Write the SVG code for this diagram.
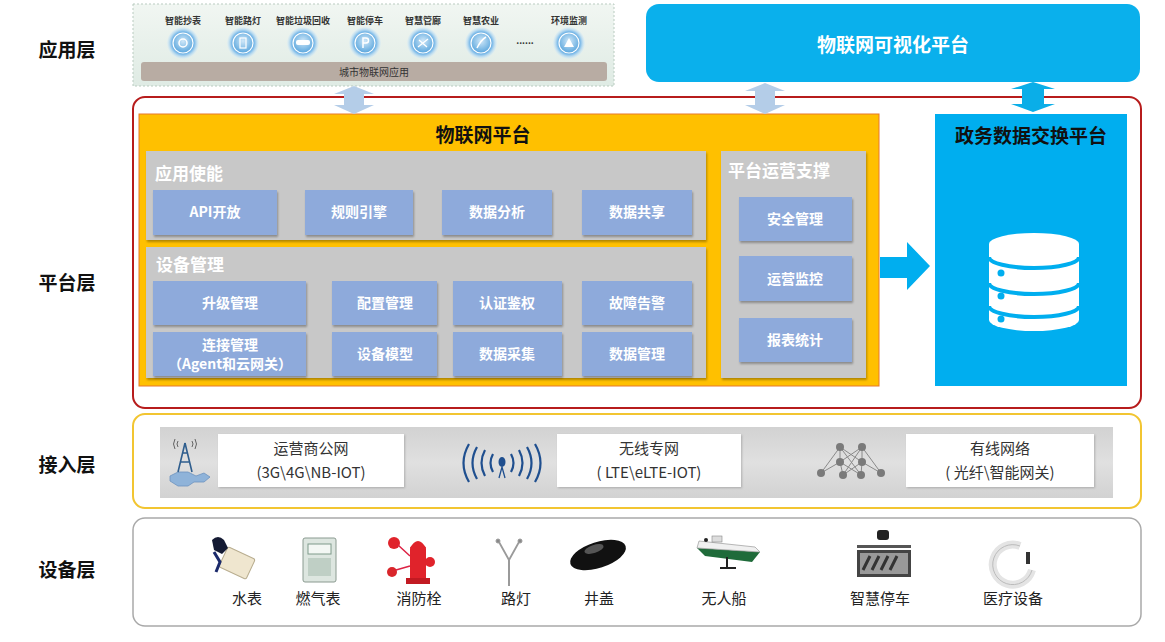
<svg xmlns="http://www.w3.org/2000/svg" width="1165" height="642" viewBox="0 0 1165 642">
<defs>
<style>
text{font-family:"Noto Sans CJK SC","Liberation Sans",sans-serif;}
.layer{font-size:19px;font-weight:700;fill:#111;text-anchor:middle;}
.btn{fill:#8eaadb;filter:url(#sh);}
.bt{font-size:14px;font-weight:700;fill:#fff;text-anchor:middle;}
.panel{fill:#c8c8c8;filter:url(#sh);}
.pt{font-size:17px;font-weight:700;fill:#fff;}
.ttl{font-size:19px;font-weight:700;fill:#111;text-anchor:middle;}
.al{font-size:9px;font-weight:700;fill:#333;text-anchor:middle;}
.lab{fill:#fff;filter:url(#sh2);}
.lt{font-size:15px;fill:#333;text-anchor:middle;}
.dt{font-size:15px;fill:#222;text-anchor:middle;}
.dbl{fill:#b4cde8;}
.net{fill:#7a7a7a;}
.netl{stroke:#8a8a8a;stroke-width:1;fill:none;}
</style>
<filter id="sh" x="-10%" y="-10%" width="130%" height="140%"><feDropShadow dx="1" dy="2" stdDeviation="1.2" flood-color="#000" flood-opacity="0.3"/></filter>
<filter id="sh2" x="-10%" y="-10%" width="130%" height="140%"><feDropShadow dx="1" dy="1" stdDeviation="1" flood-color="#000" flood-opacity="0.2"/></filter>
<radialGradient id="glow" cx="50%" cy="50%" r="50%">
<stop offset="0.55" stop-color="#3f95d6"/>
<stop offset="0.75" stop-color="#8ec4ec"/>
<stop offset="1" stop-color="#d6ebf7" stop-opacity="0.3"/>
</radialGradient>
<radialGradient id="inner" cx="50%" cy="40%" r="60%">
<stop offset="0" stop-color="#cfe7f8"/>
<stop offset="1" stop-color="#5aa6dd"/>
</radialGradient>
<linearGradient id="appbg" x1="0" y1="0" x2="0" y2="1">
<stop offset="0" stop-color="#f1f6f2"/>
<stop offset="1" stop-color="#dfebe4"/>
</linearGradient>
<linearGradient id="accbg" x1="0" y1="0" x2="0" y2="1">
<stop offset="0" stop-color="#d2d2d2"/>
<stop offset="0.5" stop-color="#e0e0e0"/>
<stop offset="1" stop-color="#d2d2d2"/>
</linearGradient>
<g id="appicon">
<circle r="16" fill="url(#glow)"/>
<circle r="10" fill="url(#inner)" stroke="#ffffff" stroke-width="1.2"/>
</g>
</defs>

<rect width="1165" height="642" fill="#ffffff"/>

<!-- layer labels -->
<g id="layer-labels">
<text class="layer" x="67" y="57">应用层</text>
<text class="layer" x="67" y="290">平台层</text>
<text class="layer" x="67" y="472">接入层</text>
<text class="layer" x="67" y="577">设备层</text>
</g>

<!-- application layer -->
<g id="app-layer">
<rect x="133" y="4" width="481" height="82" fill="url(#appbg)" stroke="#b9cbc0" stroke-width="1" stroke-dasharray="2,2"/>
<text class="al" x="183" y="24">智能抄表</text>
<text class="al" x="243" y="24">智能路灯</text>
<text class="al" x="303" y="24">智能垃圾回收</text>
<text class="al" x="365" y="24">智能停车</text>
<text class="al" x="423" y="24">智慧管廊</text>
<text class="al" x="481" y="24">智慧农业</text>
<text class="al" x="525" y="44">......</text>
<text class="al" x="569" y="24">环境监测</text>
<use href="#appicon" x="183" y="43"/>
<use href="#appicon" x="243" y="43"/>
<use href="#appicon" x="303" y="43"/>
<use href="#appicon" x="365" y="43"/>
<use href="#appicon" x="423" y="43"/>
<use href="#appicon" x="481" y="43"/>
<use href="#appicon" x="569" y="43"/>
<circle cx="183" cy="43" r="4" fill="none" stroke="#fff" stroke-width="1.5"/>
<rect x="240" y="38" width="6" height="10" fill="none" stroke="#fff" stroke-width="1.2"/>
<rect x="296" y="40" width="14" height="5" rx="2" fill="#fff"/>
<path d="M363,48 V38 h3 a2.5,2.5 0 0 1 0,5 h-3" fill="none" stroke="#fff" stroke-width="1.5"/>
<path d="M418,47 L428,39 M419,40 L427,47" stroke="#fff" stroke-width="1.3"/>
<path d="M477,48 Q481,40 486,37" fill="none" stroke="#fff" stroke-width="1.5"/>
<path d="M569,38 L574,47 L564,47 Z" fill="#fff"/>
<rect x="141" y="62" width="466" height="19" rx="3" fill="#b8aca3"/>
<text x="374" y="76" style="font-size:10px;fill:#333;text-anchor:middle">城市物联网应用</text>
</g>

<!-- visualization platform -->
<g id="viz-platform">
<rect x="646" y="4" width="494" height="78" rx="13" fill="#0ab0ec"/>
<text x="893" y="52" style="font-size:19px;font-weight:700;fill:#fff;text-anchor:middle">物联网可视化平台</text>
</g>

<!-- platform layer frame -->
<g id="platform-frame">
<rect x="133" y="97" width="1008" height="311" rx="12" fill="none" stroke="#b71c1c" stroke-width="2"/>
</g>

<!-- IoT platform -->
<g id="iot-platform">
<rect x="139" y="114" width="740" height="272" fill="#ffc000" stroke="#e8792a" stroke-width="1"/>
<text class="ttl" x="483" y="142">物联网平台</text>
</g>

<g id="app-enable">
<rect class="panel" x="146" y="151" width="560" height="89"/>
<text class="pt" x="155" y="180">应用使能</text>
<rect class="btn" x="153" y="190" width="124" height="45"/>
<text class="bt" x="215" y="217">API开放</text>
<rect class="btn" x="305" y="190" width="108" height="45"/>
<text class="bt" x="359" y="217">规则引擎</text>
<rect class="btn" x="442" y="190" width="110" height="45"/>
<text class="bt" x="497" y="217">数据分析</text>
<rect class="btn" x="582" y="190" width="110" height="45"/>
<text class="bt" x="637" y="217">数据共享</text>
</g>

<g id="device-mgmt">
<rect class="panel" x="146" y="247" width="560" height="131"/>
<text class="pt" x="156" y="271">设备管理</text>
<rect class="btn" x="153" y="281" width="153" height="44"/>
<text class="bt" x="230" y="308">升级管理</text>
<rect class="btn" x="332" y="281" width="105" height="44"/>
<text class="bt" x="385" y="308">配置管理</text>
<rect class="btn" x="453" y="281" width="109" height="44"/>
<text class="bt" x="507" y="308">认证鉴权</text>
<rect class="btn" x="582" y="281" width="110" height="44"/>
<text class="bt" x="637" y="308">故障告警</text>
<rect class="btn" x="153" y="332" width="153" height="44"/>
<text class="bt" x="230" y="350">连接管理</text>
<text class="bt" x="230" y="369">（Agent和云网关）</text>
<rect class="btn" x="332" y="332" width="105" height="44"/>
<text class="bt" x="385" y="359">设备模型</text>
<rect class="btn" x="453" y="332" width="109" height="44"/>
<text class="bt" x="507" y="359">数据采集</text>
<rect class="btn" x="582" y="332" width="110" height="44"/>
<text class="bt" x="637" y="359">数据管理</text>
</g>

<g id="ops-support">
<rect class="panel" x="721" y="151" width="145" height="227"/>
<text class="pt" x="728" y="177">平台运营支撑</text>
<rect class="btn" x="739" y="197" width="113" height="44"/>
<text class="bt" x="795" y="224">安全管理</text>
<rect class="btn" x="739" y="256" width="113" height="45"/>
<text class="bt" x="795" y="284">运营监控</text>
<rect class="btn" x="739" y="318" width="113" height="44"/>
<text class="bt" x="795" y="345">报表统计</text>
</g>

<!-- government data exchange -->
<g id="gov-exchange">
<rect x="935" y="114" width="192" height="272" fill="#00aeef"/>
<text class="ttl" x="1031" y="143">政务数据交换平台</text>
<path d="M989,244 V320 A45,11 0 0 0 1079,320 V244 Z" fill="#fff"/>
<ellipse cx="1034" cy="244" rx="45" ry="11" fill="#fff"/>
<path d="M989,257 A45,11 0 0 0 1079,257 M989,283 A45,11 0 0 0 1079,283 M989,306 A45,11 0 0 0 1079,306" fill="none" stroke="#00aeef" stroke-width="4"/>
<circle cx="1001" cy="273" r="3.5" fill="#00aeef"/>
<circle cx="1001" cy="296" r="3.5" fill="#00aeef"/>
<circle cx="1001" cy="319" r="3.5" fill="#00aeef"/>
</g>

<!-- connectors -->
<g id="connectors">
<polygon class="dbl" points="354,86 374,94 364,94 364,105 374,105 354,114 334,105 344,105 344,94 334,94"/>
<polygon class="dbl" points="765,83 785,91 775,91 775,105 785,105 765,114 745,105 755,105 755,91 745,91"/>
<polygon fill="#0aaee8" points="1033,82 1055,89 1044,89 1044,104 1055,104 1033,112 1011,104 1022,104 1022,89 1011,89"/>
<polygon fill="#00aeef" points="880,257 907,257 907,242 930,266 907,290 907,278 880,278"/>
</g>

<!-- access layer -->
<g id="access-layer">
<rect x="133" y="414" width="1008" height="94" rx="12" fill="#fff" stroke="#f2c531" stroke-width="2"/>
<rect x="160" y="427" width="953" height="71" fill="url(#accbg)"/>
<rect class="lab" x="218" y="434" width="186" height="53"/>
<text class="lt" x="311" y="454">运营商公网</text>
<text class="lt" x="311" y="478">(3G\4G\NB-IOT)</text>
<rect class="lab" x="557" y="434" width="184" height="53"/>
<text class="lt" x="649" y="454">无线专网</text>
<text class="lt" x="649" y="478">( LTE\eLTE-IOT)</text>
<rect class="lab" x="906" y="434" width="188" height="53"/>
<text class="lt" x="1000" y="454">有线网络</text>
<text class="lt" x="1000" y="478">( 光纤\智能网关)</text>
<!-- tower icon -->
<path d="M170,476 l8,-4 h10 l8,4 l8,-3 l6,4 l-6,5 h-10 l-6,4 h-10 l-8,-5 Z" fill="#8fb3d9" stroke="#6d93bf" stroke-width="0.8"/>
<path d="M185,443 L178,472 M185,443 L192,472 M180,462 H190 M182,453 H188" stroke="#2f5e8e" stroke-width="1.6" fill="none"/>
<path d="M178,441 q-2,3 0,6 M192,441 q2,3 0,6 M175,439 q-3,5 0,10 M195,439 q3,5 0,10" stroke="#555" stroke-width="0.9" fill="none"/>
<!-- wireless icon -->
<g fill="none" stroke="#1f4f8f" stroke-width="2.2">
<path d="M493,454 q-5,9 0,18 M511,454 q5,9 0,18"/>
<path d="M485,450 q-7,13 0,26 M519,450 q7,13 0,26"/>
<path d="M477,447 q-9,16 0,32 M527,447 q9,16 0,32"/>
<path d="M469,444 q-11,19 0,38 M535,444 q11,19 0,38"/>
</g>
<ellipse cx="502" cy="462" rx="3.5" ry="5" fill="#1f4f8f"/>
<path d="M502,467 L499,478 M502,467 L505,478" stroke="#1f4f8f" stroke-width="1.3"/>
<!-- network icon -->
<g class="netl">
<path d="M840,447 L840,462 L821,473 M840,447 L862,462 L843,475 M862,447 L862,462 L881,473 M862,447 L840,462 L861,475 M840,447 L821,473 M862,447 L881,473 M840,462 L843,475 M862,462 L861,475 M840,447 L861,475 M862,447 L843,475"/>
</g>
<circle class="net" cx="840" cy="447" r="4"/>
<circle class="net" cx="862" cy="447" r="4"/>
<circle class="net" cx="840" cy="462" r="4"/>
<circle class="net" cx="862" cy="462" r="4"/>
<circle class="net" cx="821" cy="473" r="4"/>
<circle class="net" cx="843" cy="475" r="4"/>
<circle class="net" cx="861" cy="475" r="4"/>
<circle class="net" cx="881" cy="473" r="4"/>
</g>

<!-- device layer -->
<g id="device-layer">
<rect x="133" y="518" width="1008" height="108" rx="12" fill="#fff" stroke="#a9a9a9" stroke-width="1.5"/>
<!-- water meter -->
<g>
<rect x="222" y="552" width="30" height="22" rx="2" fill="#efe6cf" stroke="#b8ad8f" transform="rotate(25 237 563)"/>
<path d="M212,540 q6,-6 12,0 l4,8 l-6,6 l-8,-4 Z" fill="#141a33"/>
<path d="M214,552 l6,10 l-4,10" stroke="#1b2a6b" stroke-width="3" fill="none"/>
</g>
<!-- gas meter -->
<g>
<rect x="303" y="538" width="33" height="44" rx="2" fill="#dde6e0" stroke="#8a9a90"/>
<rect x="308" y="544" width="23" height="10" fill="#f3f7f4" stroke="#7e9a8a"/>
<rect x="308" y="558" width="23" height="18" fill="#bfcfc5"/>
</g>
<!-- hydrant -->
<g>
<rect x="410" y="546" width="16" height="36" rx="3" fill="#e0232b"/>
<rect x="406" y="578" width="24" height="6" fill="#c21a22"/>
<path d="M410,548 q8,-14 16,0 Z" fill="#e0232b"/>
<circle cx="430" cy="562" r="5" fill="#e0232b"/>
<circle cx="394" cy="543" r="6" fill="#e0232b"/>
<circle cx="392" cy="572" r="5" fill="#d9262b"/>
<path d="M398,545 L410,556 M396,570 L410,566" stroke="#d24" stroke-width="1.5"/>
</g>
<!-- street lamp -->
<g stroke="#9a9a9a" fill="none">
<path d="M509,560 V586" stroke-width="2"/>
<path d="M509,560 L499,542 M509,560 L519,542" stroke-width="1.8"/>
<circle cx="498" cy="541" r="2" fill="#888"/>
<circle cx="520" cy="541" r="2" fill="#888"/>
</g>
<!-- manhole cover -->
<g>
<ellipse cx="598" cy="555" rx="29" ry="13" fill="#111" transform="rotate(-18 598 555)"/>
<ellipse cx="594" cy="549" rx="10" ry="4" fill="#555" transform="rotate(-18 594 549)"/>
</g>
<!-- unmanned boat -->
<g>
<path d="M697,548 L760,552 L752,562 L705,556 Z" fill="#1f6b3a"/>
<path d="M699,541 L755,547 L760,552 L697,548 Z" fill="#f0f0f0" stroke="#999" stroke-width="0.7"/>
<rect x="712" y="536" width="10" height="6" fill="#ddd" stroke="#888" stroke-width="0.6"/>
<circle cx="706" cy="540" r="2" fill="#222"/>
<path d="M727,557 V568 M720,568 H736" stroke="#222" stroke-width="2"/>
</g>
<!-- smart parking -->
<g>
<rect x="857" y="550" width="54" height="27" fill="#444"/>
<rect x="860" y="553" width="48" height="21" fill="#999"/>
<path d="M863,570 L870,556 M872,570 L879,556 M881,570 L888,556 M890,570 L897,556" stroke="#333" stroke-width="3"/>
<rect x="857" y="545" width="54" height="3" fill="#555"/>
<rect x="877" y="530" width="12" height="10" rx="3" fill="#222"/>
</g>
<!-- medical wristband -->
<g>
<path d="M1020,546 A20,20 0 1 0 1032,570" fill="none" stroke="#e4e4e4" stroke-width="8"/>
<path d="M1020,546 A20,20 0 1 0 1032,570" fill="none" stroke="#bbb" stroke-width="1"/>
<rect x="1026" y="552" width="4" height="12" fill="#333"/>
</g>
<text class="dt" x="247" y="604">水表</text>
<text class="dt" x="318" y="604">燃气表</text>
<text class="dt" x="419" y="604">消防栓</text>
<text class="dt" x="516" y="604">路灯</text>
<text class="dt" x="599" y="604">井盖</text>
<text class="dt" x="724" y="604">无人船</text>
<text class="dt" x="880" y="604">智慧停车</text>
<text class="dt" x="1013" y="604">医疗设备</text>
</g>
</svg>
